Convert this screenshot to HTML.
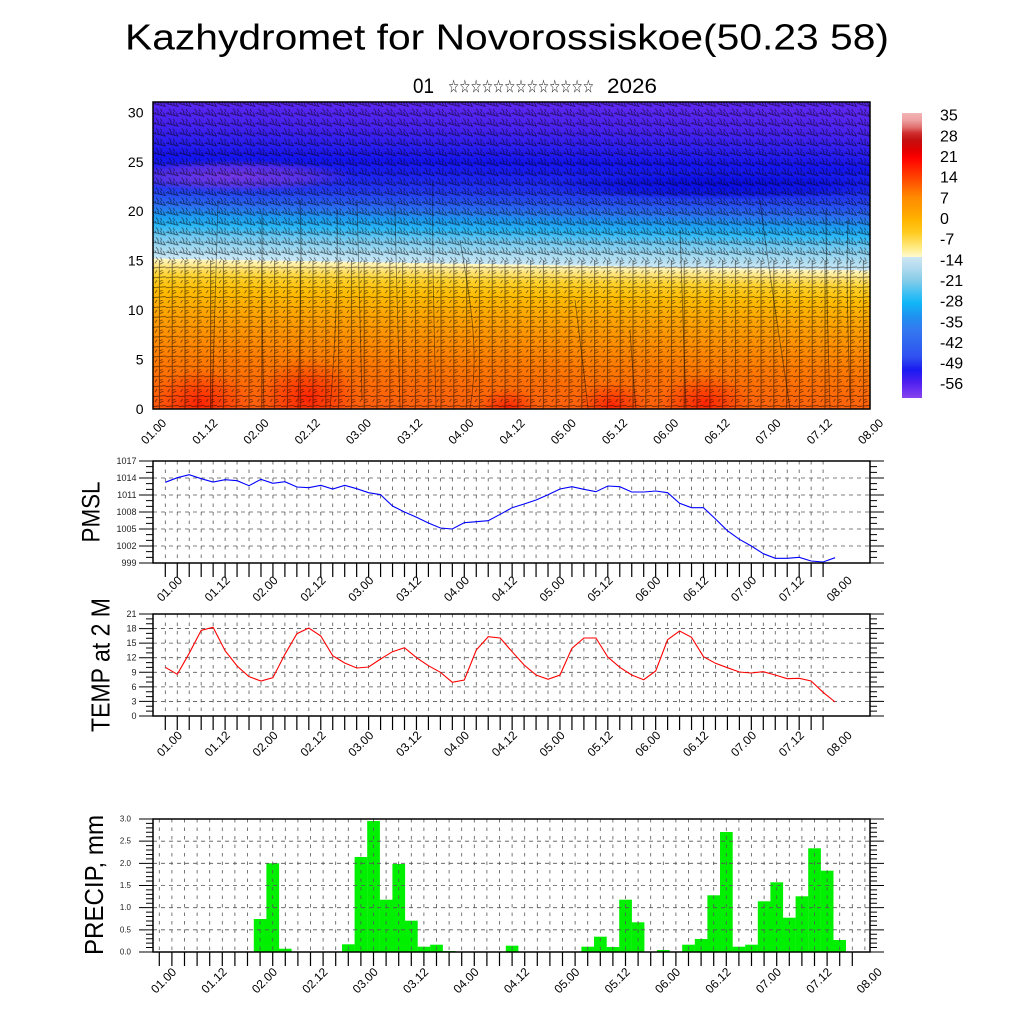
<!DOCTYPE html>
<html><head><meta charset="utf-8"><style>html,body{margin:0;padding:0;background:#fff}svg{display:block}</style></head>
<body>
<svg width="1024" height="1024" viewBox="0 0 1024 1024" xmlns="http://www.w3.org/2000/svg" font-family="'Liberation Sans','DejaVu Sans',sans-serif">
<rect width="1024" height="1024" fill="#fff"/>
<defs>
<linearGradient id="gT" gradientUnits="userSpaceOnUse" x1="153" y1="409" x2="158.1" y2="102">
<stop offset="0" stop-color="#ff5c10"/>
<stop offset=".064" stop-color="#ff6608"/>
<stop offset=".161" stop-color="#ff7a00"/>
<stop offset=".258" stop-color="#ff9400"/>
<stop offset=".322" stop-color="#ffa600"/>
<stop offset=".387" stop-color="#ffbc00"/>
<stop offset=".435" stop-color="#ffd22c"/>
<stop offset=".467" stop-color="#ffe680"/>
<stop offset=".487" stop-color="#fff6c0"/>
<stop offset=".49" stop-color="#fff8c8"/>
<stop offset=".49" stop-color="#cce8f6"/>
<stop offset=".522" stop-color="#a8daf0"/>
<stop offset=".564" stop-color="#70c8f0"/>
<stop offset=".6" stop-color="#28b6f6"/>
<stop offset=".631" stop-color="#1c98f0"/>
<stop offset=".66" stop-color="#2a72f0"/>
<stop offset=".693" stop-color="#2650f0"/>
<stop offset=".725" stop-color="#2236f0"/>
<stop offset=".773" stop-color="#1c22f0"/>
<stop offset=".822" stop-color="#1414ee"/>
<stop offset=".87" stop-color="#2a1ef0"/>
<stop offset=".934" stop-color="#4822f0"/>
<stop offset="1" stop-color="#5a26f0"/>
</linearGradient>
<radialGradient id="rs"><stop offset="0" stop-color="#ff1800" stop-opacity=".85"/><stop offset=".5" stop-color="#ff2800" stop-opacity=".5"/><stop offset="1" stop-color="#ff3000" stop-opacity="0"/></radialGradient>
<radialGradient id="vp"><stop offset="0" stop-color="#8a3ae0" stop-opacity=".8"/><stop offset=".6" stop-color="#8a3ae0" stop-opacity=".5"/><stop offset="1" stop-color="#8a3ae0" stop-opacity="0"/></radialGradient>
<radialGradient id="db"><stop offset="0" stop-color="#0000d8" stop-opacity=".7"/><stop offset=".6" stop-color="#0000d8" stop-opacity=".45"/><stop offset="1" stop-color="#0000d8" stop-opacity="0"/></radialGradient>
<linearGradient id="gC" x1="0" y1="0" x2="0" y2="1">
<stop offset="0" stop-color="#f2b4b4"/>
<stop offset=".025" stop-color="#eea0a0"/>
<stop offset=".05" stop-color="#e07070"/>
<stop offset=".07" stop-color="#d03030"/>
<stop offset=".095" stop-color="#c41010"/>
<stop offset=".13" stop-color="#e00000"/>
<stop offset=".158" stop-color="#ff0000"/>
<stop offset=".19" stop-color="#ff2000"/>
<stop offset=".225" stop-color="#ff4200"/>
<stop offset=".26" stop-color="#ff6600"/>
<stop offset=".295" stop-color="#ff8a00"/>
<stop offset=".34" stop-color="#ffa000"/>
<stop offset=".375" stop-color="#ffb400"/>
<stop offset=".42" stop-color="#ffcc20"/>
<stop offset=".47" stop-color="#ffea80"/>
<stop offset=".505" stop-color="#fffad0"/>
<stop offset=".506" stop-color="#cce6f2"/>
<stop offset=".54" stop-color="#b4dcf0"/>
<stop offset=".586" stop-color="#88cce8"/>
<stop offset=".632" stop-color="#40c0f2"/>
<stop offset=".667" stop-color="#10b6f8"/>
<stop offset=".716" stop-color="#2090f0"/>
<stop offset=".761" stop-color="#3478f0"/>
<stop offset=".807" stop-color="#3066f0"/>
<stop offset=".856" stop-color="#3050f0"/>
<stop offset=".902" stop-color="#1a1af0"/>
<stop offset=".947" stop-color="#5020f0"/>
<stop offset="1" stop-color="#8844f0"/>
</linearGradient>
<pattern id="pu" width="12.8" height="9.9" patternUnits="userSpaceOnUse" x="153" y="102">
<path d="M0 1.5L12.8 4.5M3 2.2L1.2-1.5M6 2.9L4.2-.8M9 3.6L7.2 0M12 4.3L10.2.6M3 6.5L5.5 9.9M7.5 7L9 9.9" stroke="#000" stroke-width=".8" fill="none"/>
</pattern>
<pattern id="pl" width="12.8" height="9.9" patternUnits="userSpaceOnUse" x="153" y="102">
<path d="M6.4 0V9.9M6.4 1.5L10.5-.5M6.4 4L10.5 2M0 7.5L12.8 6.5M2 3L4 0" stroke="#000" stroke-width=".8" fill="none"/>
</pattern>
<clipPath id="cT"><rect x="153" y="102" width="717" height="307"/></clipPath>
</defs>

<!-- Title -->
<text x="507" y="49.5" font-size="36" text-anchor="middle" textLength="764" lengthAdjust="spacingAndGlyphs">Kazhydromet for Novorossiskoe(50.23 58)</text>
<text x="413" y="93" font-size="21" textLength="21" lengthAdjust="spacingAndGlyphs">01</text>
<text x="448" y="92.5" font-size="18" font-family="'DejaVu Sans',sans-serif" textLength="146" lengthAdjust="spacingAndGlyphs">☆☆☆☆☆☆☆☆☆☆☆☆☆</text>
<text x="607" y="93" font-size="21" textLength="50" lengthAdjust="spacingAndGlyphs">2026</text>

<!-- Top panel -->
<g clip-path="url(#cT)">
<rect x="153" y="102" width="717" height="307" fill="url(#gT)"/>
<ellipse cx="235" cy="176" rx="120" ry="16" fill="url(#vp)"/>
<ellipse cx="720" cy="186" rx="180" ry="14" fill="url(#db)"/>
<ellipse cx="200" cy="404" rx="50" ry="35" fill="url(#rs)"/>
<ellipse cx="308" cy="398" rx="50" ry="40" fill="url(#rs)"/>
<ellipse cx="508" cy="408" rx="30" ry="20" fill="url(#rs)"/>
<ellipse cx="612" cy="406" rx="35" ry="24" fill="url(#rs)"/>
<ellipse cx="705" cy="404" rx="45" ry="30" fill="url(#rs)"/>
<g opacity=".6">
<rect x="153" y="102" width="717" height="158" fill="url(#pu)"/>
<rect x="153" y="260" width="717" height="149" fill="url(#pl)"/>
</g>
<path fill="none" stroke="#000" stroke-width=".9" opacity=".45" d="M218 200C216 260 214 330 212 409M262 215C262 280 262 340 264 409M300 200C302 260 300 330 298 409M337 210C338 280 336 340 330 409M357 200C358 260 360 320 362 400M395 205C396 270 398 330 400 409M433 180C432 250 434 320 436 409M460 240C470 300 480 350 470 409M575 300C580 340 585 380 588 409M630 330C632 360 634 390 636 409M680 230C682 300 684 360 686 409M760 200C770 280 780 340 790 409M826 210C826 280 828 340 830 409M848 220C846 280 848 330 850 400"/>
</g>
<rect x="153" y="102" width="717" height="307" fill="none" stroke="#000" stroke-width="1.5"/>
<g font-size="14" text-anchor="end" dominant-baseline="central">
<text x="143.5" y="409">0</text>
<text x="143.5" y="359.5">5</text>
<text x="143.5" y="310.1">10</text>
<text x="143.5" y="260.6">15</text>
<text x="143.5" y="211.2">20</text>
<text x="143.5" y="161.8">25</text>
<text x="143.5" y="112.3">30</text>
</g>
<g font-size="12" text-anchor="middle" dominant-baseline="central">
<text x="153.7" y="431.5" transform="rotate(-45 153.7 431.5)">01.00</text>
<text x="204.9" y="431.5" transform="rotate(-45 204.9 431.5)">01.12</text>
<text x="256.1" y="431.5" transform="rotate(-45 256.1 431.5)">02.00</text>
<text x="307.3" y="431.5" transform="rotate(-45 307.3 431.5)">02.12</text>
<text x="358.5" y="431.5" transform="rotate(-45 358.5 431.5)">03.00</text>
<text x="409.8" y="431.5" transform="rotate(-45 409.8 431.5)">03.12</text>
<text x="461" y="431.5" transform="rotate(-45 461 431.5)">04.00</text>
<text x="512.2" y="431.5" transform="rotate(-45 512.2 431.5)">04.12</text>
<text x="563.4" y="431.5" transform="rotate(-45 563.4 431.5)">05.00</text>
<text x="614.6" y="431.5" transform="rotate(-45 614.6 431.5)">05.12</text>
<text x="665.8" y="431.5" transform="rotate(-45 665.8 431.5)">06.00</text>
<text x="717" y="431.5" transform="rotate(-45 717 431.5)">06.12</text>
<text x="768.2" y="431.5" transform="rotate(-45 768.2 431.5)">07.00</text>
<text x="819.4" y="431.5" transform="rotate(-45 819.4 431.5)">07.12</text>
<text x="870.7" y="431.5" transform="rotate(-45 870.7 431.5)">08.00</text>
</g>

<!-- Colorbar -->
<rect x="902" y="113" width="20" height="285" fill="url(#gC)"/>
<g font-size="16" dominant-baseline="central">
<text x="940" y="116">35</text>
<text x="940" y="137">28</text>
<text x="940" y="157.5">21</text>
<text x="940" y="178">14</text>
<text x="940" y="199">7</text>
<text x="940" y="219.7">0</text>
<text x="940" y="240">-7</text>
<text x="940" y="261">-14</text>
<text x="940" y="281.7">-21</text>
<text x="940" y="302">-28</text>
<text x="940" y="323">-35</text>
<text x="940" y="343.7">-42</text>
<text x="940" y="364">-49</text>
<text x="940" y="384.7">-56</text>
</g>

<!-- Gridlines PMSL & TEMP -->
<path fill="none" stroke="#555" stroke-width=".8" stroke-dasharray="3.5 5" d="M165.3 461v102m11.96-102v102m11.96-102v102m11.96-102v102m11.96-102v102m11.96-102v102m11.96-102v102m11.96-102v102m11.96-102v102m11.96-102v102m11.96-102v102m11.96-102v102m11.96-102v102m11.96-102v102m11.96-102v102m11.96-102v102m11.96-102v102m11.96-102v102m11.96-102v102m11.96-102v102m11.96-102v102m11.96-102v102m11.96-102v102m11.96-102v102m11.96-102v102m11.96-102v102m11.96-102v102m11.96-102v102m11.96-102v102m11.96-102v102m11.96-102v102m11.96-102v102m11.96-102v102m11.96-102v102m11.96-102v102m11.96-102v102m11.96-102v102m11.96-102v102m11.96-102v102m11.96-102v102m11.96-102v102m11.96-102v102m11.96-102v102m11.96-102v102m11.96-102v102m11.96-102v102m11.96-102v102m11.96-102v102m11.96-102v102m11.96-102v102m11.96-102v102m11.96-102v102m11.96-102v102m11.96-102v102m11.96-102v102m11.96-102v102M165.3 614v102m11.96-102v102m11.96-102v102m11.96-102v102m11.96-102v102m11.96-102v102m11.96-102v102m11.96-102v102m11.96-102v102m11.96-102v102m11.96-102v102m11.96-102v102m11.96-102v102m11.96-102v102m11.96-102v102m11.96-102v102m11.96-102v102m11.96-102v102m11.96-102v102m11.96-102v102m11.96-102v102m11.96-102v102m11.96-102v102m11.96-102v102m11.96-102v102m11.96-102v102m11.96-102v102m11.96-102v102m11.96-102v102m11.96-102v102m11.96-102v102m11.96-102v102m11.96-102v102m11.96-102v102m11.96-102v102m11.96-102v102m11.96-102v102m11.96-102v102m11.96-102v102m11.96-102v102m11.96-102v102m11.96-102v102m11.96-102v102m11.96-102v102m11.96-102v102m11.96-102v102m11.96-102v102m11.96-102v102m11.96-102v102m11.96-102v102m11.96-102v102m11.96-102v102m11.96-102v102m11.96-102v102m11.96-102v102m11.96-102v102"/>
<path fill="none" stroke="#555" stroke-width=".8" stroke-dasharray="4 4" d="M153 478H870M153 495H870M153 512H870M153 529H870M153 546H870M153 628.57H870M153 643.14H870M153 657.71H870M153 672.29H870M153 686.86H870M153 701.43H870"/>

<!-- Ticks PMSL/TEMP bottom -->
<path fill="none" stroke="#000" stroke-width="1.2" d="M165.3 563v14m11.96-14v14m11.96-14v14m11.96-14v14m11.96-14v14m11.96-14v14m11.96-14v14m11.96-14v14m11.96-14v14m11.96-14v14m11.96-14v14m11.96-14v14m11.96-14v14m11.96-14v14m11.96-14v14m11.96-14v14m11.96-14v14m11.96-14v14m11.96-14v14m11.96-14v14m11.96-14v14m11.96-14v14m11.96-14v14m11.96-14v14m11.96-14v14m11.96-14v14m11.96-14v14m11.96-14v14m11.96-14v14m11.96-14v14m11.96-14v14m11.96-14v14m11.96-14v14m11.96-14v14m11.96-14v14m11.96-14v14m11.96-14v14m11.96-14v14m11.96-14v14m11.96-14v14m11.96-14v14m11.96-14v14m11.96-14v14m11.96-14v14m11.96-14v14m11.96-14v14m11.96-14v14m11.96-14v14m11.96-14v14m11.96-14v14m11.96-14v14m11.96-14v14m11.96-14v14m11.96-14v14m11.96-14v14m11.96-14v14M165.3 716v14m11.96-14v14m11.96-14v14m11.96-14v14m11.96-14v14m11.96-14v14m11.96-14v14m11.96-14v14m11.96-14v14m11.96-14v14m11.96-14v14m11.96-14v14m11.96-14v14m11.96-14v14m11.96-14v14m11.96-14v14m11.96-14v14m11.96-14v14m11.96-14v14m11.96-14v14m11.96-14v14m11.96-14v14m11.96-14v14m11.96-14v14m11.96-14v14m11.96-14v14m11.96-14v14m11.96-14v14m11.96-14v14m11.96-14v14m11.96-14v14m11.96-14v14m11.96-14v14m11.96-14v14m11.96-14v14m11.96-14v14m11.96-14v14m11.96-14v14m11.96-14v14m11.96-14v14m11.96-14v14m11.96-14v14m11.96-14v14m11.96-14v14m11.96-14v14m11.96-14v14m11.96-14v14m11.96-14v14m11.96-14v14m11.96-14v14m11.96-14v14m11.96-14v14m11.96-14v14m11.96-14v14m11.96-14v14m11.96-14v14"/>

<!-- Y ticks PMSL -->
<path fill="none" stroke="#000" stroke-width="1" d="M146 461h7m-7 5.667h7m-7 5.667h7m-7 5.667h7m-7 5.667h7m-7 5.667h7m-7 5.667h7m-7 5.667h7m-7 5.667h7m-7 5.667h7m-7 5.667h7m-7 5.667h7m-7 5.667h7m-7 5.667h7m-7 5.667h7m-7 5.667h7m-7 5.667h7m-7 5.667h7m-7 5.667h7M870 461h7m-7 5.667h7m-7 5.667h7m-7 5.667h7m-7 5.667h7m-7 5.667h7m-7 5.667h7m-7 5.667h7m-7 5.667h7m-7 5.667h7m-7 5.667h7m-7 5.667h7m-7 5.667h7m-7 5.667h7m-7 5.667h7m-7 5.667h7m-7 5.667h7m-7 5.667h7m-7 5.667h7M139 461h14m-14 17h14m-14 17h14m-14 17h14m-14 17h14m-14 17h14m-14 17h14M870 461h14m-14 17h14m-14 17h14m-14 17h14m-14 17h14m-14 17h14m-14 17h14"/>
<!-- Y ticks TEMP -->
<path fill="none" stroke="#000" stroke-width="1" d="M146 614h7m-7 4.857h7m-7 4.857h7m-7 4.857h7m-7 4.857h7m-7 4.857h7m-7 4.857h7m-7 4.857h7m-7 4.857h7m-7 4.857h7m-7 4.857h7m-7 4.857h7m-7 4.857h7m-7 4.857h7m-7 4.857h7m-7 4.857h7m-7 4.857h7m-7 4.857h7m-7 4.857h7m-7 4.857h7m-7 4.857h7m-7 4.857h7M870 614h7m-7 4.857h7m-7 4.857h7m-7 4.857h7m-7 4.857h7m-7 4.857h7m-7 4.857h7m-7 4.857h7m-7 4.857h7m-7 4.857h7m-7 4.857h7m-7 4.857h7m-7 4.857h7m-7 4.857h7m-7 4.857h7m-7 4.857h7m-7 4.857h7m-7 4.857h7m-7 4.857h7m-7 4.857h7m-7 4.857h7m-7 4.857h7M139 614h14m-14 14.571h14m-14 14.571h14m-14 14.571h14m-14 14.571h14m-14 14.571h14m-14 14.571h14m-14 14.571h14M870 614h14m-14 14.571h14m-14 14.571h14m-14 14.571h14m-14 14.571h14m-14 14.571h14m-14 14.571h14m-14 14.571h14"/>

<!-- Data lines -->
<polyline fill="none" stroke="#0000ff" stroke-width="1.1" points="165.3,482.3 177.3,477.7 189.2,474.7 201.2,478.7 213.1,482 225.1,479.7 237.1,480.7 249,485.7 261,479.3 272.9,483.3 284.9,481.7 296.9,487 308.8,487.7 320.8,485.3 332.7,489 344.7,485.3 356.7,488.7 368.6,492.7 380.6,494.7 392.5,506 404.5,512 416.5,517.3 428.4,523 440.4,528 452.3,529 464.3,522.7 476.3,521.7 488.2,520.7 500.2,514.3 512.1,507.7 524.1,504 536.1,500 548,494.7 560,489 571.9,486.7 583.9,489.3 595.9,491.7 607.8,486 619.8,486.7 631.7,492 643.7,492 655.7,491 667.6,492.7 679.6,503.3 691.5,507.7 703.5,507.7 715.5,519 727.4,530.7 739.4,539.3 751.3,546 763.3,553.7 775.3,558.3 787.2,558.3 799.2,557.3 811.1,561 823.1,562 835.1,557.7"/>
<polyline fill="none" stroke="#ff0000" stroke-width="1.1" points="165.3,667.3 177.3,674.3 189.2,653.3 201.2,630.3 213.1,627.3 225.1,650.7 237.1,666 249,676.7 261,681 272.9,677.7 284.9,654.3 296.9,633.7 308.8,628 320.8,636 332.7,655.7 344.7,663 356.7,668 368.6,667 380.6,659 392.5,651.7 404.5,647.7 416.5,657.7 428.4,665.7 440.4,672.3 452.3,682.3 464.3,680 476.3,650 488.2,636.7 500.2,638 512.1,651.7 524.1,665 536.1,675 548,679.3 560,675 571.9,648.3 583.9,638 595.9,638 607.8,657 619.8,667.3 631.7,675 643.7,679.7 655.7,671 667.6,639.7 679.6,631 691.5,637.3 703.5,656.7 715.5,663.3 727.4,667.7 739.4,672 751.3,673 763.3,671.7 775.3,675 787.2,678.7 799.2,678.3 811.1,681 823.1,692.3 835.1,702"/>

<rect x="153" y="461" width="717" height="102" fill="none" stroke="#000" stroke-width="1.5"/>
<rect x="153" y="614" width="717" height="102" fill="none" stroke="#000" stroke-width="1.5"/>

<g font-size="9" text-anchor="end" dominant-baseline="central" fill="#222">
<text x="136.5" y="461">1017</text>
<text x="136.5" y="478">1014</text>
<text x="136.5" y="495">1011</text>
<text x="136.5" y="512">1008</text>
<text x="136.5" y="529">1005</text>
<text x="136.5" y="546">1002</text>
<text x="136.5" y="563">999</text>
<text x="136.5" y="614">21</text>
<text x="136.5" y="628.57">18</text>
<text x="136.5" y="643.14">15</text>
<text x="136.5" y="657.71">12</text>
<text x="136.5" y="672.29">9</text>
<text x="136.5" y="686.86">6</text>
<text x="136.5" y="701.43">3</text>
<text x="136.5" y="716">0</text>
</g>

<g font-size="12" text-anchor="middle" dominant-baseline="central">
<text x="169.5" y="588.8" transform="rotate(-45 169.5 588.8)">01.00</text>
<text x="217.3" y="588.8" transform="rotate(-45 217.3 588.8)">01.12</text>
<text x="265.2" y="588.8" transform="rotate(-45 265.2 588.8)">02.00</text>
<text x="313" y="588.8" transform="rotate(-45 313 588.8)">02.12</text>
<text x="360.9" y="588.8" transform="rotate(-45 360.9 588.8)">03.00</text>
<text x="408.7" y="588.8" transform="rotate(-45 408.7 588.8)">03.12</text>
<text x="456.5" y="588.8" transform="rotate(-45 456.5 588.8)">04.00</text>
<text x="504.4" y="588.8" transform="rotate(-45 504.4 588.8)">04.12</text>
<text x="552.2" y="588.8" transform="rotate(-45 552.2 588.8)">05.00</text>
<text x="600.1" y="588.8" transform="rotate(-45 600.1 588.8)">05.12</text>
<text x="647.9" y="588.8" transform="rotate(-45 647.9 588.8)">06.00</text>
<text x="695.7" y="588.8" transform="rotate(-45 695.7 588.8)">06.12</text>
<text x="743.6" y="588.8" transform="rotate(-45 743.6 588.8)">07.00</text>
<text x="791.4" y="588.8" transform="rotate(-45 791.4 588.8)">07.12</text>
<text x="839.3" y="588.8" transform="rotate(-45 839.3 588.8)">08.00</text>
<text x="169.5" y="743.8" transform="rotate(-45 169.5 743.8)">01.00</text>
<text x="217.3" y="743.8" transform="rotate(-45 217.3 743.8)">01.12</text>
<text x="265.2" y="743.8" transform="rotate(-45 265.2 743.8)">02.00</text>
<text x="313" y="743.8" transform="rotate(-45 313 743.8)">02.12</text>
<text x="360.9" y="743.8" transform="rotate(-45 360.9 743.8)">03.00</text>
<text x="408.7" y="743.8" transform="rotate(-45 408.7 743.8)">03.12</text>
<text x="456.5" y="743.8" transform="rotate(-45 456.5 743.8)">04.00</text>
<text x="504.4" y="743.8" transform="rotate(-45 504.4 743.8)">04.12</text>
<text x="552.2" y="743.8" transform="rotate(-45 552.2 743.8)">05.00</text>
<text x="600.1" y="743.8" transform="rotate(-45 600.1 743.8)">05.12</text>
<text x="647.9" y="743.8" transform="rotate(-45 647.9 743.8)">06.00</text>
<text x="695.7" y="743.8" transform="rotate(-45 695.7 743.8)">06.12</text>
<text x="743.6" y="743.8" transform="rotate(-45 743.6 743.8)">07.00</text>
<text x="791.4" y="743.8" transform="rotate(-45 791.4 743.8)">07.12</text>
<text x="839.3" y="743.8" transform="rotate(-45 839.3 743.8)">08.00</text>
<text x="163.7" y="980.5" transform="rotate(-45 163.7 980.5)">01.00</text>
<text x="214.1" y="980.5" transform="rotate(-45 214.1 980.5)">01.12</text>
<text x="264.5" y="980.5" transform="rotate(-45 264.5 980.5)">02.00</text>
<text x="314.9" y="980.5" transform="rotate(-45 314.9 980.5)">02.12</text>
<text x="365.3" y="980.5" transform="rotate(-45 365.3 980.5)">03.00</text>
<text x="415.7" y="980.5" transform="rotate(-45 415.7 980.5)">03.12</text>
<text x="466.1" y="980.5" transform="rotate(-45 466.1 980.5)">04.00</text>
<text x="516.5" y="980.5" transform="rotate(-45 516.5 980.5)">04.12</text>
<text x="566.9" y="980.5" transform="rotate(-45 566.9 980.5)">05.00</text>
<text x="617.3" y="980.5" transform="rotate(-45 617.3 980.5)">05.12</text>
<text x="667.7" y="980.5" transform="rotate(-45 667.7 980.5)">06.00</text>
<text x="718.1" y="980.5" transform="rotate(-45 718.1 980.5)">06.12</text>
<text x="768.5" y="980.5" transform="rotate(-45 768.5 980.5)">07.00</text>
<text x="818.9" y="980.5" transform="rotate(-45 818.9 980.5)">07.12</text>
<text x="869.3" y="980.5" transform="rotate(-45 869.3 980.5)">08.00</text>
</g>

<!-- PRECIP bars -->
<g fill="#00f000">
<rect x="253.8" y="919" width="12.7" height="33"/>
<rect x="266.4" y="863.3" width="12.7" height="88.7"/>
<rect x="279" y="948.7" width="12.6" height="3.3"/>
<rect x="342" y="944.3" width="12.7" height="7.7"/>
<rect x="354.6" y="857" width="12.7" height="95"/>
<rect x="367.2" y="821" width="12.7" height="131"/>
<rect x="379.8" y="899.7" width="12.7" height="52.3"/>
<rect x="392.4" y="864" width="12.7" height="88"/>
<rect x="405" y="920.7" width="12.7" height="31.3"/>
<rect x="417.6" y="946.7" width="12.7" height="5.3"/>
<rect x="430.2" y="944.7" width="12.7" height="7.3"/>
<rect x="442.8" y="951" width="12.6" height="1"/>
<rect x="505.8" y="945.7" width="12.6" height="6.3"/>
<rect x="581.4" y="946.7" width="12.7" height="5.3"/>
<rect x="594" y="936.7" width="12.7" height="15.3"/>
<rect x="606.6" y="947" width="12.7" height="5"/>
<rect x="619.2" y="899.7" width="12.7" height="52.3"/>
<rect x="631.8" y="922.3" width="12.6" height="29.7"/>
<rect x="657" y="950" width="12.6" height="2"/>
<rect x="682.2" y="944.7" width="12.7" height="7.3"/>
<rect x="694.8" y="939" width="12.7" height="13"/>
<rect x="707.4" y="895.3" width="12.7" height="56.7"/>
<rect x="720" y="832" width="12.7" height="120"/>
<rect x="732.6" y="946.7" width="12.7" height="5.3"/>
<rect x="745.2" y="944.7" width="12.7" height="7.3"/>
<rect x="757.8" y="901.3" width="12.7" height="50.7"/>
<rect x="770.4" y="882.3" width="12.7" height="69.7"/>
<rect x="783" y="917.7" width="12.7" height="34.3"/>
<rect x="795.6" y="896.3" width="12.7" height="55.7"/>
<rect x="808.2" y="848.3" width="12.7" height="103.7"/>
<rect x="820.8" y="870.7" width="12.7" height="81.3"/>
<rect x="833.4" y="940" width="12.6" height="12"/>
</g>

<!-- PRECIP grid -->
<path fill="none" stroke="#555" stroke-width=".8" stroke-dasharray="3.5 5" d="M159.3 819v133m12.6-133v133m12.6-133v133m12.6-133v133m12.6-133v133m12.6-133v133m12.6-133v133m12.6-133v133m12.6-133v133m12.6-133v133m12.6-133v133m12.6-133v133m12.6-133v133m12.6-133v133m12.6-133v133m12.6-133v133m12.6-133v133m12.6-133v133m12.6-133v133m12.6-133v133m12.6-133v133m12.6-133v133m12.6-133v133m12.6-133v133m12.6-133v133m12.6-133v133m12.6-133v133m12.6-133v133m12.6-133v133m12.6-133v133m12.6-133v133m12.6-133v133m12.6-133v133m12.6-133v133m12.6-133v133m12.6-133v133m12.6-133v133m12.6-133v133m12.6-133v133m12.6-133v133m12.6-133v133m12.6-133v133m12.6-133v133m12.6-133v133m12.6-133v133m12.6-133v133m12.6-133v133m12.6-133v133m12.6-133v133m12.6-133v133m12.6-133v133m12.6-133v133m12.6-133v133m12.6-133v133m12.6-133v133m12.6-133v133m12.6-133v133"/>
<path fill="none" stroke="#555" stroke-width=".8" stroke-dasharray="4 4" d="M153 841.17H870M153 863.33H870M153 885.5H870M153 907.67H870M153 929.83H870"/>
<path fill="none" stroke="#000" stroke-width="1.2" d="M159.3 952v14m12.6-14v14m12.6-14v14m12.6-14v14m12.6-14v14m12.6-14v14m12.6-14v14m12.6-14v14m12.6-14v14m12.6-14v14m12.6-14v14m12.6-14v14m12.6-14v14m12.6-14v14m12.6-14v14m12.6-14v14m12.6-14v14m12.6-14v14m12.6-14v14m12.6-14v14m12.6-14v14m12.6-14v14m12.6-14v14m12.6-14v14m12.6-14v14m12.6-14v14m12.6-14v14m12.6-14v14m12.6-14v14m12.6-14v14m12.6-14v14m12.6-14v14m12.6-14v14m12.6-14v14m12.6-14v14m12.6-14v14m12.6-14v14m12.6-14v14m12.6-14v14m12.6-14v14m12.6-14v14m12.6-14v14m12.6-14v14m12.6-14v14m12.6-14v14m12.6-14v14m12.6-14v14m12.6-14v14m12.6-14v14m12.6-14v14m12.6-14v14m12.6-14v14m12.6-14v14m12.6-14v14m12.6-14v14m12.6-14v14"/>
<path fill="none" stroke="#000" stroke-width="1" d="M146 819h7m-7 4.433h7m-7 4.433h7m-7 4.433h7m-7 4.433h7m-7 4.433h7m-7 4.433h7m-7 4.433h7m-7 4.433h7m-7 4.433h7m-7 4.433h7m-7 4.433h7m-7 4.433h7m-7 4.433h7m-7 4.433h7m-7 4.433h7m-7 4.433h7m-7 4.433h7m-7 4.433h7m-7 4.433h7m-7 4.433h7m-7 4.433h7m-7 4.433h7m-7 4.433h7m-7 4.433h7m-7 4.433h7m-7 4.433h7m-7 4.433h7m-7 4.433h7m-7 4.433h7m-7 4.433h7M870 819h7m-7 4.433h7m-7 4.433h7m-7 4.433h7m-7 4.433h7m-7 4.433h7m-7 4.433h7m-7 4.433h7m-7 4.433h7m-7 4.433h7m-7 4.433h7m-7 4.433h7m-7 4.433h7m-7 4.433h7m-7 4.433h7m-7 4.433h7m-7 4.433h7m-7 4.433h7m-7 4.433h7m-7 4.433h7m-7 4.433h7m-7 4.433h7m-7 4.433h7m-7 4.433h7m-7 4.433h7m-7 4.433h7m-7 4.433h7m-7 4.433h7m-7 4.433h7m-7 4.433h7m-7 4.433h7M139 819h14m-14 22.167h14m-14 22.167h14m-14 22.167h14m-14 22.167h14m-14 22.167h14m-14 22.167h14M870 819h14m-14 22.167h14m-14 22.167h14m-14 22.167h14m-14 22.167h14m-14 22.167h14m-14 22.167h14"/>
<rect x="153" y="819" width="717" height="133" fill="none" stroke="#000" stroke-width="1.5"/>
<g font-size="8" text-anchor="end" dominant-baseline="central" fill="#222">
<text x="131" y="819">3.0</text>
<text x="131" y="841.17">2.5</text>
<text x="131" y="863.33">2.0</text>
<text x="131" y="885.5">1.5</text>
<text x="131" y="907.67">1.0</text>
<text x="131" y="929.83">0.5</text>
<text x="131" y="952">0.0</text>
</g>

<!-- Axis titles -->
<text transform="translate(99.5,512) rotate(-90)" text-anchor="middle" font-size="25" textLength="61" lengthAdjust="spacingAndGlyphs">PMSL</text>
<text transform="translate(109.5,665) rotate(-90)" text-anchor="middle" font-size="26" textLength="134" lengthAdjust="spacingAndGlyphs">TEMP at 2 M</text>
<text transform="translate(103,885) rotate(-90)" text-anchor="middle" font-size="26" textLength="140" lengthAdjust="spacingAndGlyphs">PRECIP, mm</text>
</svg>
</body></html>
